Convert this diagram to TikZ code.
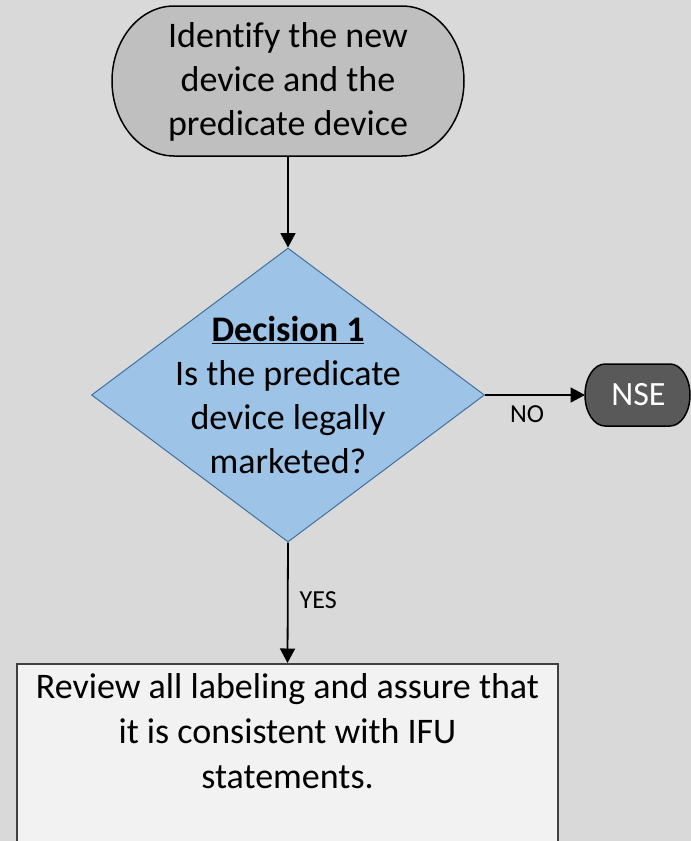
\documentclass[tikz,border=0pt]{standalone}
\usepackage{fontspec}
\setmainfont{Carlito}[Ligatures=NoCommon]
\usetikzlibrary{shapes.geometric,arrows.meta}
\definecolor{bgc}{HTML}{D9D9D9}
\definecolor{startc}{HTML}{BFBFBF}
\definecolor{diafill}{HTML}{9DC3E6}
\definecolor{diadraw}{HTML}{41719C}
\definecolor{nsec}{HTML}{595959}
\definecolor{boxfill}{HTML}{F2F2F2}
\definecolor{boxdraw}{HTML}{404040}
\begin{document}
\begin{tikzpicture}[x=1pt,y=-1pt,
  bigtxt/.style={align=center, inner sep=0pt, font=\fontsize{36}{44}\selectfont},
  anchorbox/.style={rectangle, inner sep=0pt, outer sep=0pt},
  lbl/.style={inner sep=0pt, font=\fontsize{26}{30}\selectfont},
  conn/.style={line width=1.8pt, -{Triangle[length=14.5pt,width=15pt]}},
  termshape/.style={line width=1.5pt, draw=black},
  dia/.style={diamond, draw=diadraw, fill=diafill, line width=1pt, inner sep=0pt,
    minimum width=393pt, minimum height=294pt},
  boxst/.style={rectangle, draw=boxdraw, fill=boxfill, line width=1.5pt, inner sep=0pt}
]
\useasboundingbox (0,0) rectangle (691,841);
\clip (0,0) rectangle (691,841);
\fill[bgc] (0,0) rectangle (691,841);

% start terminator outline
\path[termshape, fill=startc] (174,6) -- (402,6)
  .. controls (436.2,6) and (464,39.6) .. (464,81)
  .. controls (464,122.4) and (436.2,156) .. (402,156) -- (174,156)
  .. controls (139.8,156) and (112,122.4) .. (112,81)
  .. controls (112,39.6) and (139.8,6) .. (174,6) -- cycle;
\node[anchorbox, minimum width=352pt, minimum height=150pt] (start) at (288,81) {};
\node[bigtxt] (starttext) at (288,82) {Identify the new\\device and the\\predicate device};

% decision
\node[dia] (dec) at (288,395) {};
\node[bigtxt] (dectext) at (288,395) {\underline{\textbf{Decision 1}}\\Is the predicate\\device legally\\marketed?};

% NSE terminator outline
\path[termshape, fill=nsec] (605,364) -- (670,364)
  .. controls (681.05,364) and (690,377.9) .. (690,395)
  .. controls (690,412.1) and (681.05,426) .. (670,426) -- (605,426)
  .. controls (593.95,426) and (585,412.1) .. (585,395)
  .. controls (585,377.9) and (593.95,364) .. (605,364) -- cycle;
\node[anchorbox, minimum width=105pt, minimum height=62pt] (nse) at (637.5,395) {};
\node[bigtxt, text=white, font=\fontsize{34}{40}\selectfont] (nsetext) at (638.5,395) {NSE};

% review box
\node[boxst, anchor=north, minimum width=541pt, minimum height=220pt] (rev) at (287.5,663) {};
\node[bigtxt, font=\fontsize{36}{45}\selectfont] (revtext) at (287.5,731) {Review all labeling and assure that\\it is consistent with IFU\\statements.};

% connectors
\draw[conn] (start.south) -- (dec.north);
\draw[conn] (dec.east) -- node[lbl, below=10pt, pos=0.42] (nolbl) {NO} (nse.west);
\draw[conn] (dec.south) -- node[lbl, right=11pt, pos=0.48] (yeslbl) {YES} (rev.north);
\end{tikzpicture}
\end{document}
